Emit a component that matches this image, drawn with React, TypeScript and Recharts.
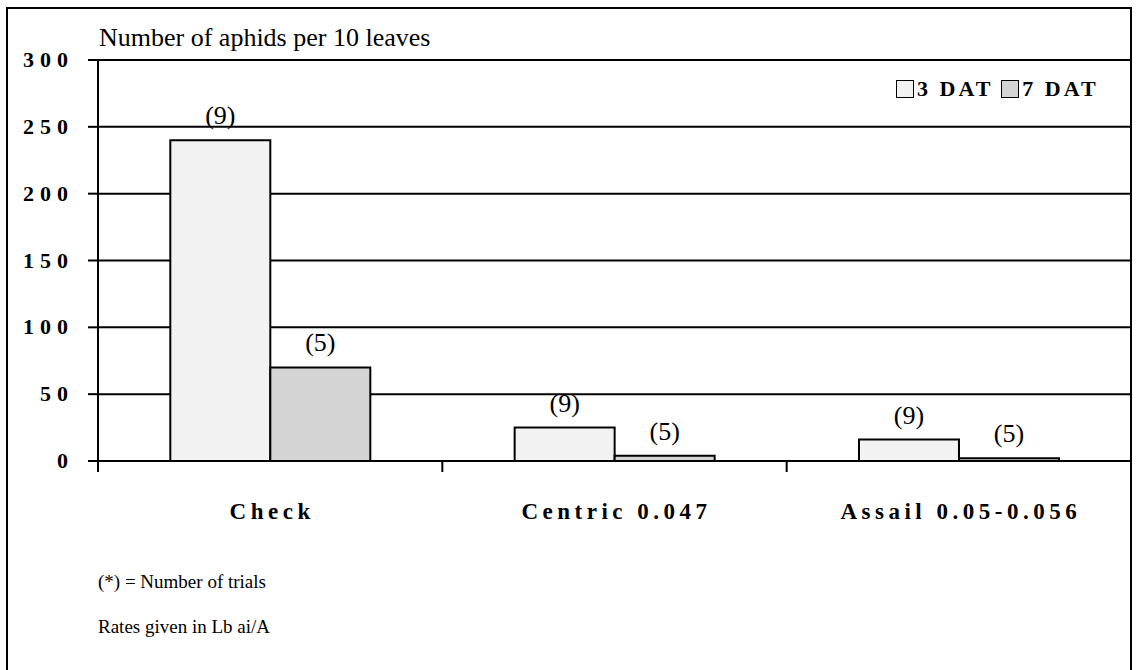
import { BarChart, Bar, XAxis, YAxis, CartesianGrid, LabelList } from 'recharts';

const categories = ['Check', 'Centric 0.047', 'Assail 0.05-0.056'];
const dat3 = [240, 25, 16];
const dat7 = [70, 4, 2];
const trials3 = [9, 9, 9];
const trials7 = [5, 5, 5];
const yTicks = [0, 50, 100, 150, 200, 250, 300];
const seriesNames = ['3 DAT', '7 DAT'];
const seriesFills = ['#f2f2f2', '#d4d4d4'];

const data = categories.map((name, i) => ({
  name,
  dat3: dat3[i],
  dat7: dat7[i],
  n3: trials3[i],
  n7: trials7[i],
}));

const W = 1139;
const H = 670;
const PLOT_LEFT = 98;
const PLOT_RIGHT = 1131;
const PLOT_TOP = 60;
const PLOT_BOTTOM = 461;
const BAND = (PLOT_RIGHT - PLOT_LEFT) / categories.length;
const SERIF = '"Liberation Serif", "Times New Roman", serif';

function XTick(props: any) {
  const { x, index, payload } = props;
  const left = x - BAND / 2;
  return (
    <g>
      <line x1={left} x2={left} y1={PLOT_BOTTOM} y2={PLOT_BOTTOM + 11} stroke="#000" strokeWidth={2} />
      {index === categories.length - 1 && (
        <line x1={x + BAND / 2} x2={x + BAND / 2} y1={PLOT_BOTTOM} y2={PLOT_BOTTOM + 11} stroke="#000" strokeWidth={2} />
      )}
      <text
        x={x + 2}
        y={PLOT_BOTTOM + 58}
        textAnchor="middle"
        fontFamily={SERIF}
        fontWeight="bold"
        fontSize={23}
        letterSpacing={4.5}
        fill="#000"
      >
        {payload.value}
      </text>
    </g>
  );
}

function YTick(props: any) {
  const { y, payload } = props;
  return (
    <text
      x={74}
      y={y + 7}
      textAnchor="end"
      fontFamily={SERIF}
      fontWeight="bold"
      fontSize={22}
      letterSpacing={6}
      fill="#000"
    >
      {payload.value}
    </text>
  );
}

const labelStyle = { fontFamily: SERIF, fontSize: 26, fill: '#000' };

export default function App() {
  return (
    <div style={{ position: 'fixed', left: 0, top: 0, width: W, height: H, background: '#fff', overflow: 'hidden' }}>
      <div
        style={{
          position: 'absolute',
          left: 6,
          top: 7,
          width: 1126,
          height: 720,
          border: '2px solid #000',
          boxSizing: 'border-box',
        }}
      />
      <div style={{ position: 'absolute', left: 0, top: 0 }}>
        <BarChart
          width={W}
          height={H}
          data={data}
          margin={{ top: PLOT_TOP, right: W - PLOT_RIGHT, left: 0, bottom: 0 }}
          barGap={0}
          barCategoryGap="21%"
        >
          <CartesianGrid horizontal vertical={false} stroke="#000" strokeWidth={2} strokeOpacity={1} />
          <XAxis
            dataKey="name"
            height={H - PLOT_BOTTOM}
            axisLine={{ stroke: '#000', strokeWidth: 2 }}
            tickLine={false}
            tick={<XTick />}
            interval={0}
          />
          <YAxis
            width={PLOT_LEFT}
            domain={[0, 300]}
            ticks={yTicks}
            axisLine={{ stroke: '#000', strokeWidth: 2 }}
            tickLine={{ stroke: '#000', strokeWidth: 2 }}
            tickSize={10}
            tick={<YTick />}
          />
          <Bar dataKey="dat3" name={seriesNames[0]} fill={seriesFills[0]} stroke="#000" strokeWidth={2} isAnimationActive={false}>
            <LabelList dataKey="n3" position="top" offset={16} formatter={(v: any) => `(${v})`} style={labelStyle} />
          </Bar>
          <Bar dataKey="dat7" name={seriesNames[1]} fill={seriesFills[1]} stroke="#000" strokeWidth={2} isAnimationActive={false}>
            <LabelList dataKey="n7" position="top" offset={16} formatter={(v: any) => `(${v})`} style={labelStyle} />
          </Bar>
        </BarChart>
      </div>
      <div
        style={{
          position: 'absolute',
          left: 99,
          top: 23,
          fontFamily: SERIF,
          fontSize: 26,
          lineHeight: '30px',
          color: '#000',
          whiteSpace: 'nowrap',
        }}
      >
        Number of aphids per 10 leaves
      </div>
      <div
        style={{
          position: 'absolute',
          left: 896,
          top: 76,
          display: 'flex',
          alignItems: 'center',
          gap: 8,
          fontFamily: SERIF,
          fontWeight: 'bold',
          fontSize: 22,
          letterSpacing: 3,
          color: '#000',
          whiteSpace: 'nowrap',
        }}
      >
        {seriesNames.map((s, i) => (
          <div key={s} style={{ display: 'flex', alignItems: 'center', gap: 3 }}>
            <span
              style={{
                display: 'inline-block',
                width: 16,
                height: 16,
                background: seriesFills[i],
                border: '1.5px solid #000',
              }}
            />
            <span>{s}</span>
          </div>
        ))}
      </div>
      <div style={{ position: 'absolute', left: 98, top: 569, fontFamily: SERIF, fontSize: 19, lineHeight: '26px', color: '#000' }}>
        (*) = Number of trials
      </div>
      <div style={{ position: 'absolute', left: 98, top: 614, fontFamily: SERIF, fontSize: 19, lineHeight: '26px', color: '#000' }}>
        Rates given in Lb ai/A
      </div>
    </div>
  );
}
